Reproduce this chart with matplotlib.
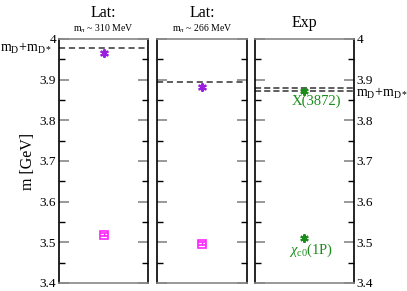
import matplotlib
matplotlib.use("Agg")
import matplotlib.pyplot as plt
from matplotlib.ticker import MultipleLocator

plt.rcParams.update({
    "font.family": "Liberation Serif",
    "mathtext.fontset": "custom",
    "mathtext.rm": "Liberation Serif",
    "mathtext.it": "Liberation Serif:italic",
    "font.size": 9,
})

# data (GeV)
titles = ["Lat:", "Lat:", "Exp"]
subtitles = [r"m$_\pi$ ~ 310 MeV", r"m$_\pi$ ~ 266 MeV", ""]
threshold_lat = [3.978, 3.894]
threshold_exp = [3.879, 3.872]
star_vals = [3.966, 3.882]
star_errs = [0.005, 0.006]
square_vals = [3.519, 3.497]
square_errs = [0.004, 0.004]
exp_vals = [3.872, 3.511]
exp_labels = ["X(3872)", r"$\chi_{\rm c0}$(1P)"]

PURPLE = "#9a1ee0"
MAGENTA = "#ff22ff"
GREEN = "#1a8c1a"

fig = plt.figure(figsize=(4.07, 2.91), dpi=100)
bottom, height = 0.0275, 0.8385
rects = [(0.145, 0.219), (0.386, 0.221), (0.6265, 0.243)]
axes = [fig.add_axes([l, bottom, w, height]) for l, w in rects]

for i, ax in enumerate(axes):
    ax.set_xlim(0, 1)
    ax.set_ylim(3.4, 4.0)
    ax.yaxis.set_major_locator(MultipleLocator(0.1))
    ax.yaxis.set_minor_locator(MultipleLocator(0.05))
    ax.tick_params(axis="y", which="major", direction="in", length=7, width=1.2,
                   color="#888888", left=True, right=True, labelleft=(i == 0),
                   labelright=(i == 2), labelsize=9.5, pad=2)
    ax.tick_params(axis="y", which="minor", direction="in", length=4, width=1,
                   left=True, right=True)
    ax.set_xticks([])
    for s in ax.spines.values():
        s.set_linewidth(1.2)
    ax.spines["top"].set_color("#888888")
    ax.spines["bottom"].set_color("#888888")
    ax.yaxis.set_major_formatter(plt.FuncFormatter(lambda v, p: f"{v:g}"))
    if subtitles[i]:
        ax.text(0.5, 1.09, titles[i], transform=ax.transAxes, ha="center",
                va="baseline", fontsize=11.5)
        ax.text(0.5, 1.032, subtitles[i], transform=ax.transAxes, ha="center",
                va="baseline", fontsize=7)
    else:
        ax.text(0.5, 1.05, titles[i], transform=ax.transAxes, ha="center",
                va="baseline", fontsize=11.5)

# lattice panels
for i in range(2):
    ax = axes[i]
    ax.axhline(threshold_lat[i], color="#333333", ls=(0, (4, 2.5)), lw=1.1)
    ax.errorbar([0.5], [star_vals[i]], yerr=[star_errs[i]], fmt="none",
                ecolor=PURPLE, elinewidth=1, capsize=3)
    ax.plot([0.5], [star_vals[i]], marker=(6, 2, 0), ms=6, mew=1.5,
            color=PURPLE, ls="none")
    ax.errorbar([0.5], [square_vals[i]], yerr=[square_errs[i]], fmt="s",
                ms=6, mfc="none", mec=MAGENTA, mew=1.2, ecolor=MAGENTA,
                elinewidth=1, capsize=3)

# experiment panel
ax = axes[2]
for t in threshold_exp:
    ax.axhline(t, color="#333333", ls=(0, (4, 2)), lw=1.1)
ax.plot([0.5, 0.5], exp_vals, marker=(6, 2, 0), ms=6, mew=1.5, color=GREEN,
        ls="none")
ax.text(0.626, 3.847, exp_labels[0], color=GREEN, ha="center", va="center",
        fontsize=10.5)
ax.text(0.566, 3.481, exp_labels[1], color=GREEN, ha="center", va="center",
        fontsize=10.5)

axes[0].set_ylabel("m [GeV]", fontsize=11.5, labelpad=3)
fig.text(0.128, 1 - 52 / 291, r"m$_{\rm D}$+m$_{\rm D*}$", ha="right",
         va="baseline", fontsize=10)
fig.text(0.874, 1 - 97 / 291, r"m$_{\rm D}$+m$_{\rm D*}$", ha="left",
         va="baseline", fontsize=10)

fig.savefig("out.png", dpi=100)
